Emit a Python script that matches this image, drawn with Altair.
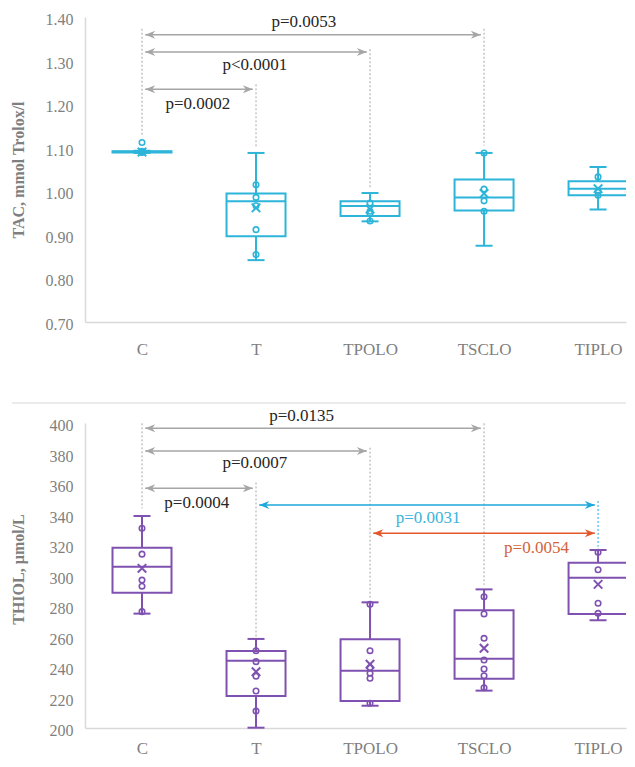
import json
import altair as alt
import pandas as pd

# ---------------- data ----------------
groups = ["C", "T", "TPOLO", "TSCLO", "TIPLO"]
gidx = [1, 2, 3, 4, 5]

# TAC, mmol Trolox/l
tac_low = [1.088, 0.842, 0.931, 0.875, 0.958]
tac_q1 = [1.089, 0.897, 0.943, 0.956, 0.991]
tac_med = [1.091, 0.977, 0.966, 0.986, 1.006]
tac_q3 = [1.092, 0.995, 0.977, 1.027, 1.023]
tac_high = [1.093, 1.088, 0.996, 1.088, 1.056]
tac_mean = [1.090, 0.962, 0.959, 0.995, 1.006]
tac_pts_C = [1.112, 1.092, 1.090, 1.089]
tac_pts_T = [1.015, 0.986, 0.967, 0.912, 0.855]
tac_pts_TPOLO = [0.973, 0.954, 0.949, 0.932]
tac_pts_TSCLO = [1.088, 1.005, 0.978, 0.954]
tac_pts_TIPLO = [1.033, 1.000, 0.991]

# THIOL, umol/L
thiol_low = [275.0, 200.2, 214.6, 224.5, 270.6]
thiol_q1 = [288.7, 221.0, 217.7, 232.3, 274.8]
thiol_med = [305.8, 244.1, 237.6, 245.4, 298.6]
thiol_q3 = [318.2, 250.5, 258.2, 277.2, 308.4]
thiol_high = [339.0, 258.4, 282.4, 290.9, 316.7]
thiol_mean = [304.7, 236.9, 241.8, 252.3, 294.2]
thiol_pts_C = [331.0, 314.0, 297.0, 293.0, 276.3]
thiol_pts_T = [250.7, 243.5, 234.0, 224.3, 211.1]
thiol_pts_TPOLO = [281.1, 250.7, 239.6, 235.9, 232.6, 216.2]
thiol_pts_TSCLO = [286.1, 274.8, 258.8, 244.6, 238.7, 234.3, 226.4]
thiol_pts_TIPLO = [315.2, 303.8, 281.8, 275.2]

# significance annotations
tac_link_from = ["C", "C", "C"]
tac_link_to = ["TSCLO", "TPOLO", "T"]
tac_link_y = [1.3595, 1.3197, 1.234]
tac_link_label = ["p=0.0053", "p<0.0001", "p=0.0002"]
tac_label_x = [2.42, 1.99, 1.49]
tac_label_y = [1.3885, 1.289, 1.200]
tac_link_col = ["gray", "gray", "gray"]
tac_guide_g = ["C", "T", "TPOLO", "TSCLO"]
tac_guide_top = [1.373, 1.2455, 1.326, 1.373]
tac_guide_bot = [1.125, 1.1016, 1.005, 1.105]
tac_guide_col = ["gray", "gray", "gray", "gray"]

thiol_link_from = ["C", "C", "C", "T", "TPOLO"]
thiol_link_to = ["TSCLO", "TPOLO", "T", "TIPLO", "TIPLO"]
thiol_link_y = [396.5, 381.6, 357.2, 346.2, 327.7]
thiol_link_label = ["p=0.0135", "p=0.0007", "p=0.0004", "p=0.0031", "p=0.0054"]
thiol_label_x = [2.40, 1.99, 1.48, 3.51, 4.46]
thiol_label_y = [404.8, 373.6, 347.3, 337.5, 317.8]
thiol_link_col = ["gray", "gray", "gray", "cyan", "orange"]
thiol_guide_g = ["C", "T", "TPOLO", "TSCLO", "TIPLO"]
thiol_guide_top = [399.8, 361.0, 383.8, 399.8, 348.9]
thiol_guide_bot = [344.0, 260.0, 285.0, 293.8, 318.9]
thiol_guide_col = ["gray", "gray", "gray", "gray", "cyan"]

# ---------------- styling ----------------
FONT = "Liberation Serif"
AXIS_GRAY = "#7f7f7f"
LINE_COL = {"gray": "#a6a6a6", "cyan": "#1ea9dd", "orange": "#e4572a"}
TEXT_COL = {"gray": "#262626", "cyan": "#3cb4da", "orange": "#d2633c"}
TAC_COLOR = "#2db4d9"
THIOL_COLOR = "#7f51b0"
GAP = 0.028
W, H = 541, 305
BOX_W = 59
CAP_W = 17
X_PATH = "M-1,-1L1,1M-1,1L1,-1"
HEAD_R = "M0,0L-2,-0.8L-1.4,0L-2,0.8Z"
HEAD_L = "M0,0L2,-0.8L1.4,0L2,0.8Z"

pos = dict(zip(groups, gidx))
label_expr = "%s[datum.value - 1]" % json.dumps(groups)


def panel(low, q1, med, q3, high, mean, pts, lfrom, lto, ly, llab, lx, lly, lcol,
          gg, gtop, gbot, gcol, color, ydom, yvals, yfmt, ytitle, title_y, xpad,
          extra=None):
    xscale = alt.Scale(domain=[0.5, 5.245], nice=False, zero=False, padding=0)
    yscale = alt.Scale(domain=ydom, nice=False, zero=False, padding=0)
    xaxis = alt.Axis(values=gidx, labelExpr=label_expr, labelFontSize=17,
                     labelFont=FONT, labelPadding=xpad, tickSize=0, ticks=False,
                     grid=False, title=None)
    yaxis = alt.Axis(values=yvals, format=yfmt, labelFontSize=16, labelFont=FONT,
                     labelPadding=12, labelOffset=2.5,
                     tickSize=0, ticks=False, grid=False,
                     title=ytitle, titleX=-67, titleY=title_y, titleAngle=-90,
                     titleAlign="center", titleBaseline="middle")

    def X(f):
        return alt.X(f, type="quantitative", scale=xscale, axis=xaxis, title=None)

    def Y(f):
        return alt.Y(f, type="quantitative", scale=yscale, axis=yaxis, title=ytitle)

    box = pd.DataFrame({"g": gidx, "low": low, "q1": q1, "med": med, "q3": q3,
                        "high": high, "mean": mean})
    prow = []
    for name in groups:
        for v in pts[name]:
            prow.append({"g": pos[name], "v": v})
    pdf = pd.DataFrame(prow)

    links = pd.DataFrame({
        "x1": [pos[a] + GAP for a in lfrom],
        "x2": [pos[b] - GAP for b in lto],
        "y": ly,
        "lab": llab, "lx": lx, "ly": lly,
        "lc": [LINE_COL[c] for c in lcol],
        "tc": [TEXT_COL[c] for c in lcol],
    })
    guides = pd.DataFrame({"g": [pos[a] for a in gg], "top": gtop, "bot": gbot,
                           "c": [LINE_COL[c] for c in gcol]})

    layers = []
    layers.append(alt.Chart(guides).mark_rule(strokeDash=[2, 2], strokeWidth=1).encode(
        x=X("g"), y=Y("top"), y2="bot", color=alt.Color("c:N", scale=None)))
    layers.append(alt.Chart(links).mark_rule(strokeWidth=1.5).encode(
        x=X("x1"), x2="x2", y=Y("y"), color=alt.Color("lc:N", scale=None)))
    layers.append(alt.Chart(links).mark_point(shape=HEAD_L, filled=True, size=100,
                                              opacity=1, strokeWidth=0).encode(
        x=X("x1"), y=Y("y"), color=alt.Color("lc:N", scale=None)))
    layers.append(alt.Chart(links).mark_point(shape=HEAD_R, filled=True, size=100,
                                              opacity=1, strokeWidth=0).encode(
        x=X("x2"), y=Y("y"), color=alt.Color("lc:N", scale=None)))
    layers.append(alt.Chart(links).mark_text(font=FONT, fontSize=17, baseline="middle",
                                             align="center").encode(
        x=X("lx"), y=Y("ly"), text="lab:N", color=alt.Color("tc:N", scale=None)))
    layers.append(alt.Chart(box).mark_rule(color=color, strokeWidth=2).encode(
        x=X("g"), y=Y("low"), y2="q1"))
    layers.append(alt.Chart(box).mark_rule(color=color, strokeWidth=2).encode(
        x=X("g"), y=Y("q3"), y2="high"))
    layers.append(alt.Chart(box).mark_tick(orient="horizontal", size=CAP_W, thickness=2,
                                           color=color, opacity=1).encode(
        x=X("g"), y=Y("low")))
    layers.append(alt.Chart(box).mark_tick(orient="horizontal", size=CAP_W, thickness=2,
                                           color=color, opacity=1).encode(
        x=X("g"), y=Y("high")))
    layers.append(alt.Chart(box).mark_bar(width=BOX_W, fill="white", fillOpacity=0,
                                          stroke=color, strokeWidth=2, clip=True).encode(
        x=X("g"), y=Y("q1"), y2="q3"))
    layers.append(alt.Chart(box).mark_tick(orient="horizontal", size=BOX_W, thickness=2,
                                           color=color, opacity=1, clip=True).encode(
        x=X("g"), y=Y("med")))
    layers.append(alt.Chart(pdf).mark_point(shape="circle", filled=False, size=30,
                                            strokeWidth=1.6, color=color, opacity=1).encode(
        x=X("g"), y=Y("v")))
    layers.append(alt.Chart(box).mark_point(shape=X_PATH, filled=False, size=72,
                                            strokeWidth=2, color=color, opacity=1).encode(
        x=X("g"), y=Y("mean")))
    if extra is not None:
        layers.insert(0, extra)
    return alt.layer(*layers).properties(width=W, height=H)


tac_pts = {"C": tac_pts_C, "T": tac_pts_T, "TPOLO": tac_pts_TPOLO,
           "TSCLO": tac_pts_TSCLO, "TIPLO": tac_pts_TIPLO}
thiol_pts = {"C": thiol_pts_C, "T": thiol_pts_T, "TPOLO": thiol_pts_TPOLO,
             "TSCLO": thiol_pts_TSCLO, "TIPLO": thiol_pts_TIPLO}

top = panel(tac_low, tac_q1, tac_med, tac_q3, tac_high, tac_mean, tac_pts,
            tac_link_from, tac_link_to, tac_link_y, tac_link_label, tac_label_x,
            tac_label_y, tac_link_col, tac_guide_g, tac_guide_top, tac_guide_bot,
            tac_guide_col, TAC_COLOR, [0.70, 1.40],
            [0.7, 0.8, 0.9, 1.0, 1.1, 1.2, 1.3, 1.4], ".2f",
            "TAC, mmol Trolox/l", 152.5, 19)

sep = alt.Chart(pd.DataFrame({"s": [0]})).mark_rule(color="#e4e4e4", strokeWidth=1.5).encode(
    x=alt.value(-73), x2=alt.value(W), y=alt.value(-20))

bottom = panel(thiol_low, thiol_q1, thiol_med, thiol_q3, thiol_high, thiol_mean, thiol_pts,
               thiol_link_from, thiol_link_to, thiol_link_y, thiol_link_label, thiol_label_x,
               thiol_label_y, thiol_link_col, thiol_guide_g, thiol_guide_top, thiol_guide_bot,
               thiol_guide_col, THIOL_COLOR, [200, 400],
               list(range(200, 401, 20)), "d", "THIOL, µmol/L", 146, 12, extra=sep)

chart = alt.vconcat(top, bottom, spacing=101, bounds="flush").properties(
    padding={"left": 2, "top": 3, "right": 0, "bottom": 0}
).configure_view(stroke=None).configure_axis(
    domainColor="#d9d9d9", domainWidth=1.5,
    labelFont=FONT, labelColor=AXIS_GRAY,
    titleFont=FONT, titleFontWeight="bold", titleColor=AXIS_GRAY, titleFontSize=16,
).configure_text(font=FONT)

chart.save("out.html", embed_options={"renderer": "svg", "actions": False})
